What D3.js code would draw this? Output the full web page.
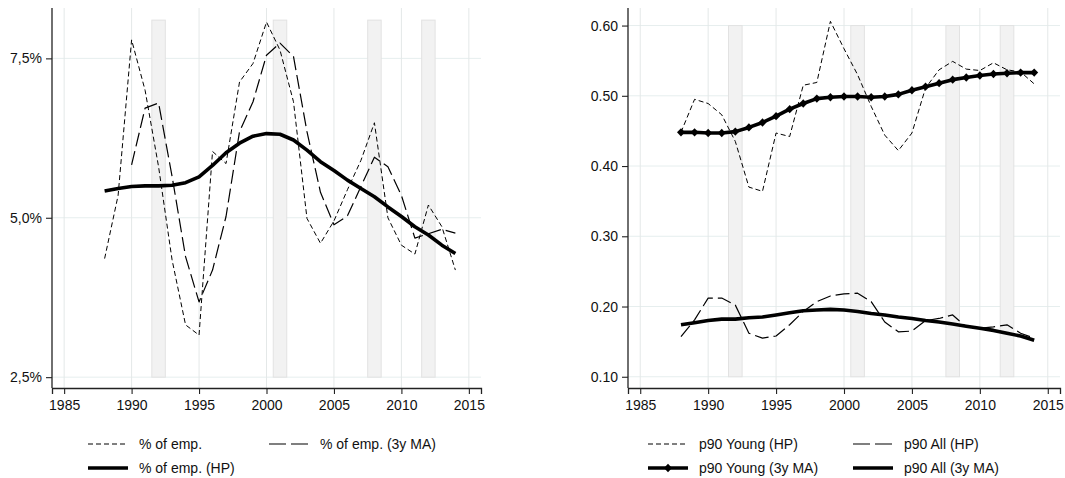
<!DOCTYPE html>
<html lang="en">
<head>
<meta charset="utf-8">
<title>Employment share and p90</title>
<style>
  body { margin: 0; background: #fff; }
  svg text { font-family: "Liberation Sans", Arial, sans-serif; }
</style>
</head>
<body>
<script src="https://cdnjs.cloudflare.com/ajax/libs/d3/7.9.0/d3.min.js"></script>
<script>
const years = [1988,1989,1990,1991,1992,1993,1994,1995,1996,1997,1998,1999,2000,
  2001,2002,2003,2004,2005,2006,2007,2008,2009,2010,2011,2012,2013,2014];

// left panel, % of employment
const empPct = [4.36,5.35,7.79,7.0,5.8,4.34,3.32,3.16,6.04,5.85,7.13,7.42,8.07,
  7.63,6.82,4.99,4.6,4.95,5.44,5.9,6.49,5.0,4.57,4.43,5.2,4.86,4.18];
const empMA = [null,null,5.83,6.72,6.8,5.65,4.39,3.68,4.18,5.02,6.35,6.82,7.55,
  7.74,7.53,6.35,5.4,4.89,5.03,5.49,5.95,5.8,5.35,4.68,4.75,4.82,4.76];
const empHP = [5.42,5.46,5.49,5.5,5.5,5.51,5.55,5.64,5.82,6.02,6.17,6.28,6.32,
  6.31,6.22,6.06,5.88,5.74,5.59,5.46,5.33,5.17,5.02,4.86,4.73,4.57,4.44];

// right panel, p90
const youngHP = [0.448,0.495,0.489,0.473,0.435,0.370,0.364,0.447,0.442,0.515,0.519,0.606,0.567,
  0.530,0.485,0.444,0.422,0.447,0.511,0.537,0.549,0.538,0.536,0.547,0.537,0.534,0.517];
const youngMA = [0.448,0.448,0.447,0.447,0.449,0.455,0.462,0.471,0.481,0.489,0.496,0.498,0.499,
  0.499,0.498,0.499,0.502,0.508,0.513,0.518,0.523,0.526,0.529,0.531,0.532,0.533,0.533];
const allHP = [0.157,0.181,0.212,0.212,0.202,0.162,0.155,0.158,0.174,0.193,0.207,0.215,0.218,
  0.219,0.207,0.178,0.164,0.165,0.180,0.183,0.188,0.171,0.169,0.171,0.174,0.162,0.155];
const allMA = [0.174,0.177,0.180,0.182,0.182,0.184,0.185,0.188,0.191,0.194,0.195,0.196,0.195,
  0.193,0.190,0.188,0.185,0.183,0.180,0.178,0.175,0.172,0.169,0.166,0.162,0.158,0.152];

const recessions = [[1991.5,1992.5],[2000.5,2001.5],[2007.5,2008.5],[2011.5,2012.5]];
const xTicks = [1985,1990,1995,2000,2005,2010,2015];
const leftTicks = [2.5,5.0,7.5];
const rightTicks = [0.10,0.20,0.30,0.40,0.50,0.60];

const svg = d3.select("body").append("svg")
  .attr("width", 1065).attr("height", 478);

const plotTop = 8, plotBottom = 388;

function panel(opts) {
  const x = d3.scaleLinear().domain([1984.1, 2015.9]).range([opts.x0, opts.x1]);
  const y = d3.scaleLinear().domain(opts.yDomain).range([plotBottom, plotTop]);
  const g = svg.append("g");

  // gridlines
  g.append("g")
    .selectAll("line").data(opts.yTicks).enter().append("line")
    .attr("x1", opts.x0).attr("x2", opts.x1)
    .attr("y1", d => y(d)).attr("y2", d => y(d))
    .attr("stroke", "#e6eeee").attr("stroke-width", 1);
  g.append("g")
    .selectAll("line").data(xTicks).enter().append("line")
    .attr("x1", d => x(d)).attr("x2", d => x(d))
    .attr("y1", plotTop).attr("y2", plotBottom)
    .attr("stroke", "#e4e8e8").attr("stroke-width", 1);

  // recession shading
  g.append("g").selectAll("rect").data(recessions).enter().append("rect")
    .attr("x", d => x(d[0]))
    .attr("width", d => x(d[1]) - x(d[0]))
    .attr("y", y(opts.barTop))
    .attr("height", y(opts.yTicks[0]) - y(opts.barTop))
    .attr("fill", "#f2f2f2").attr("stroke", "#e2e2e2").attr("stroke-width", 1);

  // axes
  const ax = g.append("g")
    .attr("transform", `translate(0,${plotBottom})`)
    .call(d3.axisBottom(x).tickValues(xTicks).tickFormat(d3.format("d"))
      .tickSizeOuter(0).tickSize(6).tickPadding(6));
  const ay = g.append("g")
    .attr("transform", `translate(${opts.x0},0)`)
    .call(d3.axisLeft(y).tickValues(opts.yTicks).tickFormat(opts.fmt)
      .tickSizeOuter(0).tickSize(6).tickPadding(4));
  [ax, ay].forEach(a => {
    a.select(".domain").attr("stroke", "#222").attr("stroke-width", 1.3);
    a.selectAll(".tick line").attr("stroke", "#222").attr("stroke-width", 1.1);
    a.selectAll("text").attr("fill", "#111").style("font-size", "14px");
  });
  ay.select(".domain").attr("d", `M0,${plotTop}V${plotBottom}`);

  // series
  opts.series.forEach(s => {
    const pts = years.map((yr, i) => [yr, s.values[i]]);
    const line = d3.line()
      .defined(d => d[1] != null)
      .x(d => x(d[0])).y(d => y(d[1]));
    g.append("path").datum(pts)
      .attr("d", line)
      .attr("fill", "none")
      .attr("stroke", "#000")
      .attr("stroke-width", s.width)
      .attr("stroke-dasharray", s.dash || null)
      .attr("stroke-linejoin", "round");
    if (s.marker) {
      g.append("g").selectAll("path").data(pts.filter(d => d[1] != null)).enter()
        .append("path")
        .attr("d", "M0,-4.2L4,0L0,4.2L-4,0Z")
        .attr("transform", d => `translate(${x(d[0])},${y(d[1])})`)
        .attr("fill", "#000");
    }
  });

  // legend
  const lg = svg.append("g");
  opts.series.forEach((s, i) => {
    const lx = opts.legend[i][0], ly = opts.legend[i][1];
    lg.append("line")
      .attr("x1", lx).attr("x2", lx + 40).attr("y1", ly).attr("y2", ly)
      .attr("stroke", "#000").attr("stroke-width", s.width)
      .attr("stroke-dasharray", s.legendDash || s.dash || null);
    if (s.marker) {
      lg.append("path").attr("d", "M0,-4.2L4,0L0,4.2L-4,0Z")
        .attr("transform", `translate(${lx + 20},${ly})`).attr("fill", "#000");
    }
    lg.append("text")
      .attr("x", lx + 51).attr("y", ly).attr("dy", "0.35em")
      .attr("fill", "#111").style("font-size", "14px")
      .text(s.name);
  });
}

panel({
  x0: 52, x1: 481,
  yDomain: [2.33, 8.29],
  yTicks: leftTicks,
  barTop: 8.1,
  fmt: d => d3.format(".1f")(d).replace(".", ",") + "%",
  series: [
    { name: "% of emp.", values: empPct, width: 1, dash: "5,3" },
    { name: "% of emp. (3y MA)", values: empMA, width: 1.2, dash: "14,5", legendDash: "17,5" },
    { name: "% of emp. (HP)", values: empHP, width: 3.6 }
  ],
  legend: [[88, 444], [269, 444], [88, 468]]
});

panel({
  x0: 628, x1: 1060,
  yDomain: [0.084, 0.625],
  yTicks: rightTicks,
  barTop: 0.60,
  fmt: d3.format(".2f"),
  series: [
    { name: "p90 Young (HP)", values: youngHP, width: 1, dash: "5,3" },
    { name: "p90 All (HP)", values: allHP, width: 1.2, dash: "14,5", legendDash: "17,5" },
    { name: "p90 Young (3y MA)", values: youngMA, width: 3.6, marker: true },
    { name: "p90 All (3y MA)", values: allMA, width: 3.6 }
  ],
  legend: [[648, 444], [853, 444], [648, 468], [853, 468]]
});
</script>
</body>
</html>
